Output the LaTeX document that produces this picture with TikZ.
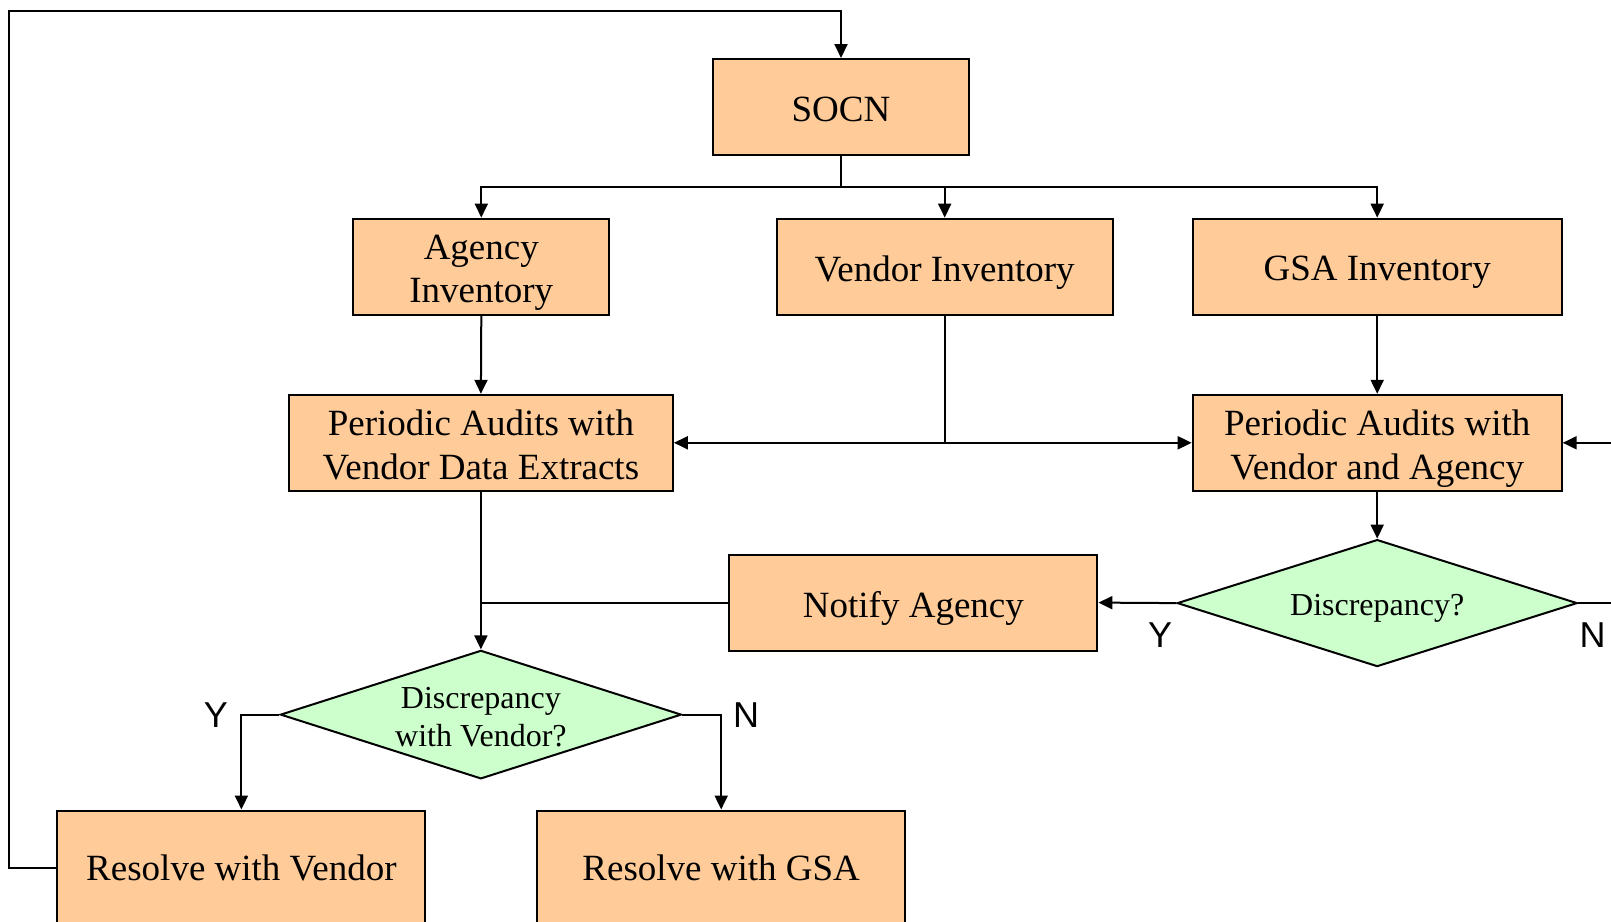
\documentclass[tikz,border=0pt]{standalone}
\usepackage{fontspec}
\setmainfont{Liberation Serif}
\newfontfamily\labelsans{Liberation Sans}
\usetikzlibrary{shapes.geometric,arrows.meta}
\definecolor{boxfill}{RGB}{255,204,153}
\definecolor{decfill}{RGB}{204,255,204}
\newcommand{\nodepth}[1]{\raisebox{-2pt}[\height][0pt]{#1}}
\newcommand{\flatline}[1]{\raisebox{0pt}[\height][0pt]{#1}}
\tikzset{
  procbox/.style={draw=black, line width=2pt, fill=boxfill, rectangle, inner sep=0pt,
    align=center, font=\fontsize{37}{44.6}\selectfont},
  decbox/.style={draw=black, line width=2pt, fill=decfill, diamond, inner sep=0pt,
    align=center, font=\fontsize{32}{38.4}\selectfont},
  yn/.style={inner sep=0pt, font=\labelsans\fontsize{36}{40}\selectfont},
  conn/.style={line width=2pt},
  arr/.style={conn, -{Triangle[length=14pt,width=13pt]}}
}
\begin{document}
\begin{tikzpicture}[x=1pt,y=-1pt]
\useasboundingbox (0,0) rectangle (1611,921);
\clip (0,0) rectangle (1611,921);

\node[procbox, minimum width=256pt, minimum height=96pt] (socn) at (841,107) {\nodepth{SOCN}};
\node[procbox, minimum width=256pt, minimum height=96pt] (agency) at (481.3,266.6) {\nodepth{Agency}\\[-1.5pt]\nodepth{Inventory}};
\node[procbox, minimum width=336pt, minimum height=96pt] (vinv) at (944.7,266.6) {\nodepth{Vendor Inventory}};
\node[procbox, minimum width=369pt, minimum height=96pt] (gsa) at (1377.2,266.6) {\nodepth{GSA Inventory}};
\node[procbox, minimum width=384pt, minimum height=96pt] (pal) at (480.9,442.8) {\nodepth{Periodic Audits with}\\\nodepth{Vendor Data Extracts}};
\node[procbox, minimum width=369pt, minimum height=96pt] (par) at (1377.2,442.8) {\nodepth{Periodic Audits with}\\\nodepth{Vendor and Agency}};
\node[decbox, aspect=3.1, minimum width=400pt, minimum height=127pt] (dr) at (1377.2,603.1) {\nodepth{Discrepancy?}};
\node[procbox, minimum width=368pt, minimum height=96pt] (notify) at (913.4,602.6) {\nodepth{Notify Agency}};
\node[decbox, aspect=3.1, minimum width=401pt, minimum height=128.5pt] (dv) at (480.9,714.6) {\nodepth{Discrepancy}\\\nodepth{with Vendor?}};
\node[procbox, minimum width=368pt, minimum height=115pt] (rv) at (241.4,868) {\flatline{Resolve with Vendor}};
\node[procbox, minimum width=368pt, minimum height=115pt] (rg) at (721.2,868) {\flatline{Resolve with GSA}};

\node[yn] (yr) at (1160,635) {Y};
\node[yn] (nr) at (1592.5,635) {N};
\node[yn] (yl) at (215.8,715) {Y};
\node[yn] (nl) at (746,715) {N};

% SOCN branches
\coordinate (br) at (841,187);
\draw[conn] (socn.south) -- (br);
\draw[arr] (br) -| (agency.north);
\draw[arr] (br) -| (vinv.north);
\draw[arr] (br) -| (gsa.north);

% inventories to audits
\draw[arr] (agency.south) -- (pal.north);
\draw[arr] (gsa.south) -- (par.north);
\coordinate (vs) at (vinv.south |- pal.east);
\draw[conn] (vinv.south) -- (vs);
\draw[arr] (vs) -- (pal.east);
\draw[arr] (vs) -- (par.west);
\coordinate (rin) at (1611,442.8);
\draw[arr] (rin) -- (par.east);

% right decision
\draw[arr] (par.south) -- (dr.north);
\draw[arr] (dr.west) -- (notify.east);
\coordinate (rout) at (1611,603.1);
\draw[conn] (dr.east) -- (rout);

% left chain
\draw[arr] (pal.south) -- (dv.north);
\draw[conn] (notify.west) -- (notify.west -| pal.south);

% lower decision
\draw[arr] (dv.west) -| (rv.north);
\draw[arr] (dv.east) -| (rg.north);

% feedback loop
\coordinate (lp1) at (9.2,868);
\coordinate (lp2) at (9.2,11.3);
\draw[arr] (rv.west) -- (lp1) -- (lp2) -| (socn.north);
\end{tikzpicture}
\end{document}
